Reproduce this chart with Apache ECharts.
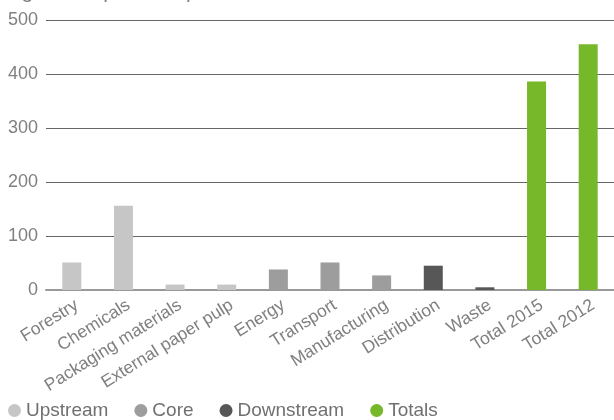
<!DOCTYPE html>
<html><head><meta charset="utf-8">
<script src="https://cdn.jsdelivr.net/npm/echarts@6/dist/echarts.min.js"></script>
<style>html,body{margin:0;padding:0;background:#fff}#c{width:614px;height:420px}</style>
</head><body><div id="c"></div>
<script>
const categories = ['Forestry','Chemicals','Packaging materials','External paper pulp','Energy','Transport','Manufacturing','Distribution','Waste','Total 2015','Total 2012'];
const upstream   = [51, 156, 10, 10, null, null, null, null, null, null, null];
const core       = [null, null, null, null, 38, 51, 27, null, null, null, null];
const downstream = [null, null, null, null, null, null, null, 45, 5, null, null];
const totals     = [null, null, null, null, null, null, null, null, null, 386, 455];
const yTicks = [0, 100, 200, 300, 400, 500];
const seriesNames = ['Upstream','Core','Downstream','Totals'];
const colors = ['#c6c6c6','#9d9d9d','#575757','#76b82a'];

const chart = echarts.init(document.getElementById('c'));
const font = 'Liberation Sans, Arial, sans-serif';
const mk = (name, data, color) => ({
  name, type: 'bar', stack: 'all', data, barWidth: 19,
  itemStyle: { color }, emphasis: { disabled: true }
});
chart.setOption({
  animation: false,
  textStyle: { fontFamily: font },
  title: { text: 'kg CO\u2082 equivalent per tonne', left: 6, top: -23,
    textStyle: { fontSize: 21, fontWeight: 'normal', color: '#808080', fontFamily: font } },
  grid: { left: 46, right: 0, top: 20, bottom: 130 },
  legend: {
    data: seriesNames, left: 8, bottom: 0, padding: 0, icon: 'circle', itemWidth: 13, itemHeight: 13,
    itemGap: 26, textStyle: { fontSize: 19, color: '#707070', fontFamily: font, padding: [0,0,0,0] }
  },
  xAxis: {
    type: 'category', data: categories,
    axisLine: { lineStyle: { color: '#999', width: 2 } },
    axisTick: { show: false },
    axisLabel: { rotate: 32, interval: 0, color: '#808080', fontSize: 17.5, margin: 17, fontFamily: font,
      padding: [0, -6, 0, 0] }
  },
  yAxis: {
    type: 'value', min: yTicks[0], max: yTicks[yTicks.length-1], interval: 100,
    axisLine: { show: false }, axisTick: { show: false },
    axisLabel: { color: '#808080', fontSize: 18, margin: 8, fontFamily: font },
    splitLine: { lineStyle: { color: '#666', width: 1.2 } }
  },
  series: [
    mk(seriesNames[0], upstream, colors[0]),
    mk(seriesNames[1], core, colors[1]),
    mk(seriesNames[2], downstream, colors[2]),
    mk(seriesNames[3], totals, colors[3])
  ]
});
</script></body></html>
